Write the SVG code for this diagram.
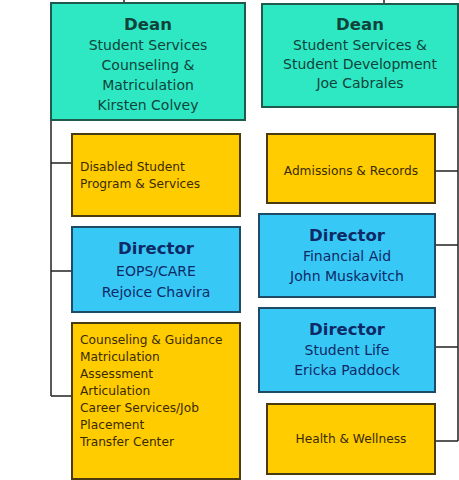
<svg xmlns="http://www.w3.org/2000/svg" width="459" height="480" viewBox="0 0 459 480">
<style>
.teal{fill:#2ee8c4;stroke:#1f5a4c;stroke-width:2}
.yel{fill:#ffcc00;stroke:#4a3a10;stroke-width:2}
.blu{fill:#38c8f6;stroke:#1f4a66;stroke-width:2}
.ln{stroke:#222;stroke-width:1.5;fill:none}
text{font-family:"DejaVu Sans","Verdana",sans-serif;font-size:14px}
.h{font-weight:bold;font-size:16.5px}
.tt{fill:#10433a;text-anchor:middle}
.bt{fill:#0e2a66;text-anchor:middle}
.yt{fill:#3a2a00;font-size:12.2px}
.c{text-anchor:middle}
</style>
<g id="connectors">
<path class="ln" d="M124 0V3M384 0V4M51 120V396M51 163H72M51 271H72M51 396H72M458 107V441M435 171H458M435 245H458M435 347H458M435 441H458"/>
</g>
<g id="dean1">
<rect class="teal" x="51" y="3" width="194" height="117"/>
<text class="tt h" x="148" y="30">Dean</text>
<text class="tt" x="148" y="50">Student Services</text>
<text class="tt" x="148" y="70">Counseling &amp;</text>
<text class="tt" x="148" y="90">Matriculation</text>
<text class="tt" x="148" y="110">Kirsten Colvey</text>
</g>
<g id="dean2">
<rect class="teal" x="262" y="4" width="196" height="103"/>
<text class="tt h" x="360" y="30">Dean</text>
<text class="tt" x="360" y="50">Student Services &amp;</text>
<text class="tt" x="360" y="69">Student Development</text>
<text class="tt" x="360" y="88">Joe Cabrales</text>
</g>
<g id="dsps">
<rect class="yel" x="72" y="134" width="168" height="82"/>
<text class="yt" x="80" y="171">Disabled Student</text>
<text class="yt" x="80" y="188">Program &amp; Services</text>
</g>
<g id="eops">
<rect class="blu" x="72" y="227" width="168" height="85"/>
<text class="bt h" x="156" y="254">Director</text>
<text class="bt" x="156" y="276">EOPS/CARE</text>
<text class="bt" x="156" y="297">Rejoice Chavira</text>
</g>
<g id="counseling">
<rect class="yel" x="72" y="323" width="168" height="156"/>
<text class="yt" x="80" y="344">Counseling &amp; Guidance</text>
<text class="yt" x="80" y="361">Matriculation</text>
<text class="yt" x="80" y="378">Assessment</text>
<text class="yt" x="80" y="395">Articulation</text>
<text class="yt" x="80" y="412">Career Services/Job</text>
<text class="yt" x="80" y="429">Placement</text>
<text class="yt" x="80" y="446">Transfer Center</text>
</g>
<g id="admissions">
<rect class="yel" x="267" y="134" width="168" height="69"/>
<text class="yt c" x="351" y="175">Admissions &amp; Records</text>
</g>
<g id="finaid">
<rect class="blu" x="259" y="214" width="176" height="83"/>
<text class="bt h" x="347" y="241">Director</text>
<text class="bt" x="347" y="261">Financial Aid</text>
<text class="bt" x="347" y="281">John Muskavitch</text>
</g>
<g id="studentlife">
<rect class="blu" x="259" y="308" width="176" height="84"/>
<text class="bt h" x="347" y="335">Director</text>
<text class="bt" x="347" y="355">Student Life</text>
<text class="bt" x="347" y="375">Ericka Paddock</text>
</g>
<g id="health">
<rect class="yel" x="267" y="404" width="168" height="70"/>
<text class="yt c" x="351" y="443">Health &amp; Wellness</text>
</g>
</svg>
